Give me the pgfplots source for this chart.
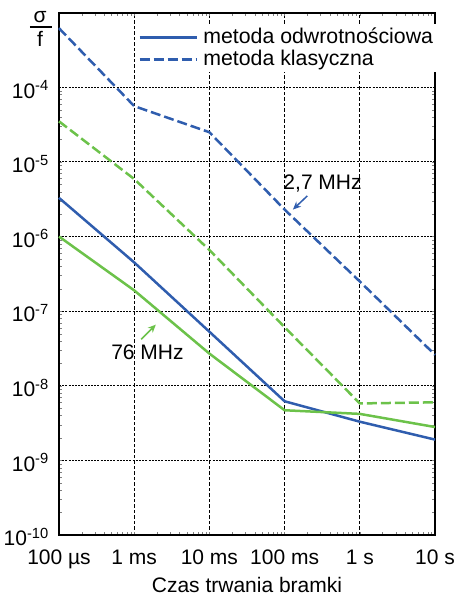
\documentclass[border=0pt]{standalone}
\usepackage{fontspec}
\setmainfont{Liberation Sans}
\usepackage{pgfplots}
\pgfplotsset{compat=1.18}
\usetikzlibrary{arrows.meta}
\definecolor{odblue}{HTML}{2F5DAE}
\definecolor{odgreen}{HTML}{6CC24A}

\begin{document}
\fontsize{21}{25}\selectfont
\begin{tikzpicture}
\begin{axis}[
  scale only axis,
  width=376pt, height=522.3pt,
  xmode=log, ymode=log,
  xmin=1e-4, xmax=10,
  ymin=1e-10, ymax=1e-3,
  xtick={1e-4,1e-3,1e-2,1e-1,1,10},
  xticklabels={100 µs,1 ms,10 ms,100 ms,1 s,10 s},
  ytick={1e-10,1e-9,1e-8,1e-7,1e-6,1e-5,1e-4},
  yticklabels={10\textsuperscript{-10},10\textsuperscript{-9},10\textsuperscript{-8},10\textsuperscript{-7},10\textsuperscript{-6},10\textsuperscript{-5},10\textsuperscript{-4}},
  minor tick num=0,
  major tick length=0pt,
  tick label style={font=\fontsize{21}{25}\selectfont},
  x tick label style={yshift=-8pt},
  y tick label style={xshift=-3pt, yshift=-2pt},
  xlabel={Czas trwania bramki},
  xlabel style={font=\fontsize{21}{25}\selectfont, inner sep=0pt, at={(axis description cs:0.5,0)}, anchor=center, yshift=-50pt},
  xmajorgrids, ymajorgrids,
  x grid style={black, line width=1.2pt, dash pattern=on 3.5pt off 2pt},
  y grid style={black, line width=1pt, dash pattern=on 2pt off 1.2pt},
  axis line style={black, line width=1.8pt},
  legend style={at={(rel axis cs:0.205,0.978)}, anchor=north west,
    draw=none, fill=white, font=\fontsize{21.3}{25}\selectfont,
    inner sep=2pt, row sep=0pt, column sep=4pt,
    nodes={inner sep=1.6pt}},
  legend cell align=left,
  legend image code/.code={\draw[#1] (0pt,0pt) -- (57pt,0pt);},
  every axis plot/.append style={line width=2.5pt, line join=round},
  clip=false,
]
% metoda odwrotnosciowa, 2,7 MHz
\addplot[odblue, mark=none] coordinates {
 (1e-4,3.3e-6) (1e-3,4.5e-7) (1e-2,5.3e-8) (1e-1,6.2e-9) (1,3.3e-9) (10,1.9e-9)
};
\addlegendentry{metoda odwrotnościowa}
% metoda klasyczna, 2,7 MHz
\addplot[odblue, mark=none, dash pattern=on 10pt off 4pt] coordinates {
 (1e-4,6.2e-4) (1e-3,5.6e-5) (1e-2,2.5e-5) (1e-1,2.3e-6) (1,2.5e-7) (10,2.6e-8)
};
\addlegendentry{metoda klasyczna}
% metoda klasyczna, 76 MHz
\addplot[odgreen, mark=none, dash pattern=on 10pt off 4pt, forget plot] coordinates {
 (1e-4,3.5e-5) (1e-3,5.9e-6) (1e-2,6.6e-7) (1e-1,6.1e-8) (1,5.8e-9) (10,6.0e-9)
};
% metoda odwrotnosciowa, 76 MHz
\addplot[odgreen, mark=none, forget plot] coordinates {
 (1e-4,1.0e-6) (1e-3,1.9e-7) (1e-2,2.7e-8) (1e-1,4.7e-9) (1,4.2e-9) (10,2.8e-9)
};
% annotations
\node[font=\fontsize{21}{25}\selectfont] at (axis cs:0.32,5.2e-6) {2,7 MHz};
\draw[odblue, line width=1.5pt, -{Stealth[length=8pt,width=7pt]}] (axis cs:0.2,3.5e-6) -- (axis cs:0.129,2.3e-6);
\node[font=\fontsize{21}{25}\selectfont] at (axis cs:1.5e-3,2.8e-8) {76 MHz};
\draw[odgreen, line width=1.5pt, -{Stealth[length=8pt,width=7pt]}] (axis cs:1.24e-3,4.2e-8) -- (axis cs:1.94e-3,6.6e-8);
% y axis quantity sigma/f
\node[inner sep=0pt, font=\fontsize{21}{25}\selectfont] at ([xshift=-19pt,yshift=-4.3pt]rel axis cs:0,1) {σ};
\draw[line width=1.4pt] ([xshift=-29pt,yshift=-14.3pt]rel axis cs:0,1) -- ([xshift=-7pt,yshift=-14.3pt]rel axis cs:0,1);
\node[inner sep=0pt, font=\fontsize{21}{25}\selectfont] at ([xshift=-19pt,yshift=-25.8pt]rel axis cs:0,1) {f};
\end{axis}
\pgfresetboundingbox
\path[use as bounding box] ([shift={(-59pt,-61pt)}]current axis.south west) rectangle ([shift={(19pt,12.7pt)}]current axis.north east);
\end{tikzpicture}
\end{document}
